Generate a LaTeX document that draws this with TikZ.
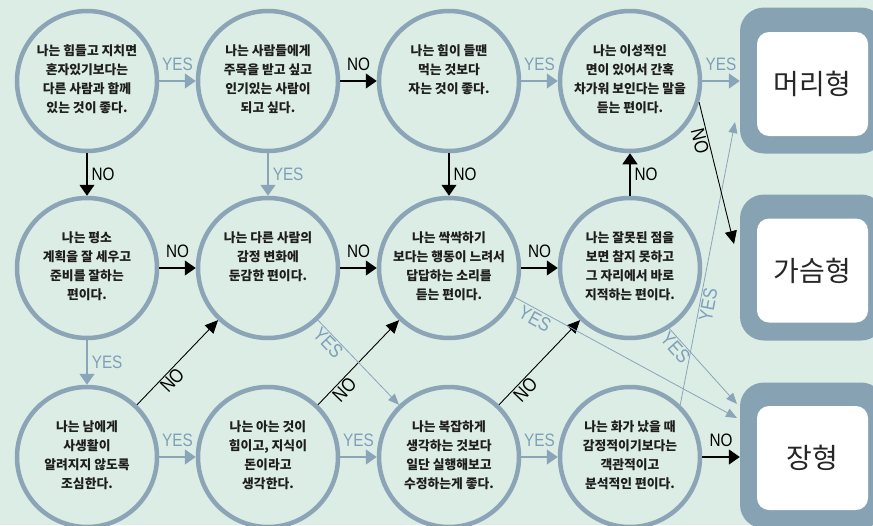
\documentclass[tikz,border=0pt]{standalone}
\usepackage{fontspec}
\setmainfont{Liberation Sans}
\newfontfamily\kr{Noto Sans CJK KR}
\newfontfamily\lblfont{Liberation Sans}[FakeStretch=0.85]
\usetikzlibrary{arrows.meta}
\definecolor{bg}{HTML}{DCEDE6}
\definecolor{cstroke}{HTML}{8BA4B6}
\definecolor{boxc}{HTML}{86A2B3}
\definecolor{yesc}{HTML}{7E9FB8}
\definecolor{lslate}{HTML}{8AA5B8}
\definecolor{qtext}{HTML}{1E1E1E}
\tikzset{
  q/.style={circle,draw=cstroke,line width=4.5pt,minimum size=140pt,inner sep=0pt},
  qt/.style={font=\kr\bfseries\fontsize{12.8}{19}\selectfont,align=center,text=qtext,anchor=north,inner sep=0pt},
  ob/.style={fill=boxc,rounded corners=24pt,minimum width=145pt,minimum height=146pt,inner sep=0pt},
  ib/.style={fill=white,rounded corners=12pt,minimum width=111pt,minimum height=104pt,inner sep=0pt,font=\kr\fontsize{28}{30}\selectfont,text=black!85},
  bk/.style={draw=black,line width=1.3pt,-{Triangle[length=11pt,width=15pt]}},
  sl/.style={draw=lslate,line width=1.6pt,-{Triangle[length=11pt,width=15pt]}},
  bkd/.style={draw=black,line width=0.9pt,-{Triangle[length=13pt,width=12pt]}},
  sld/.style={draw=lslate,line width=0.8pt,-{Triangle[length=11pt,width=9pt]}},
  yl/.style={text=yesc,font=\lblfont\fontsize{18}{18}\selectfont,inner sep=1pt},
  nl/.style={text=black,font=\lblfont\fontsize{18}{18}\selectfont,inner sep=1pt},
  yld/.style={text=yesc,font=\lblfont\fontsize{19.5}{19.5}\selectfont,inner sep=1pt,sloped},
  nld/.style={text=black,font=\lblfont\fontsize{19.5}{19.5}\selectfont,inner sep=1pt,sloped},
}
\newcommand\qnode[4]{%
  \node[q] (#1) at (#2,#3) {};
  \node[qt] (#1t) at (#2,#3-37) {#4};}
\begin{document}
\begin{tikzpicture}[x=1pt,y=-1pt]
\useasboundingbox (0,0) rectangle (873,525);
\clip (0,0) rectangle (873,525);
\fill[bg] (0,0) rectangle (873,525);

\qnode{c11}{87}{81}{나는 힘들고 지치면\\혼자있기보다는\\다른 사람과 함께\\있는 것이 좋다.}
\qnode{c12}{268}{81}{나는 사람들에게\\주목을 받고 싶고\\인기있는 사람이\\되고 싶다.}
\qnode{c13}{449}{81}{나는 힘이 들땐\\먹는 것보다\\자는 것이 좋다.}
\qnode{c14}{630}{81}{나는 이성적인\\면이 있어서 간혹\\차가워 보인다는 말을\\듣는 편이다.}
\qnode{c21}{87}{268}{나는 평소\\계획을 잘 세우고\\준비를 잘하는\\편이다.}
\qnode{c22}{268}{268}{나는 다른 사람의\\감정 변화에\\둔감한 편이다.}
\qnode{c23}{449}{268}{나는 싹싹하기\\보다는 행동이 느려서\\답답하는 소리를\\듣는 편이다.}
\qnode{c24}{630}{268}{나는 잘못된 점을\\보면 참지 못하고\\그 자리에서 바로\\지적하는 편이다.}
\qnode{c31}{87}{457}{나는 남에게\\사생활이\\알려지지 않도록\\조심한다.}
\qnode{c32}{268}{457}{나는 아는 것이\\힘이고, 지식이\\돈이라고\\생각한다.}
\qnode{c33}{449}{457}{나는 복잡하게\\생각하는 것보다\\일단 실행해보고\\수정하는게 좋다.}
\qnode{c34}{630}{457}{나는 화가 났을 때\\감정적이기보다는\\객관적이고\\분석적인 편이다.}

\node[ob] (b1) at (812.5,80.5) {};
\node[ib] (b1t) at (812.5,84) {머리형};
\node[ob] (b2) at (812.5,267.5) {};
\node[ib] (b2t) at (812.5,270.5) {가슴형};
\node[ob] (b3) at (812.5,455.5) {};
\node[ib] (b3t) at (812.5,458) {장형};

\coordinate (e1) at (735,122);
\coordinate (e2) at (734,244);
\coordinate (e3) at (737,404);
\coordinate (e4) at (737,418);

% row 1
\draw[sl] (c11) -- node[yl,above=9pt]{YES} (c12);
\draw[bk] (c12) -- node[nl,above=9pt]{NO} (c13);
\draw[sl] (c13) -- node[yl,above=9pt]{YES} (c14);
\draw[sl] (c14.east) -- node[yl,above=9pt]{YES} (c14.east -| b1.west);
% verticals
\draw[bk] (c11) -- node[nl,right=3pt]{NO} (c21);
\draw[sl] (c12) -- node[yl,right=3pt]{YES} (c22);
\draw[bk] (c13) -- node[nl,right=3pt]{NO} (c23);
\draw[bk] (c24) -- node[nl,right=3pt]{NO} (c14);
\draw[sl] (c21) -- node[yl,right=3pt]{YES} (c31);
% row 2
\draw[bk] (c21) -- node[nl,above=9pt]{NO} (c22);
\draw[bk] (c22) -- node[nl,above=9pt]{NO} (c23);
\draw[bk] (c23) -- node[nl,above=9pt]{NO} (c24);
% row 3
\draw[sl] (c31) -- node[yl,above=9pt]{YES} (c32);
\draw[sl] (c32) -- node[yl,above=9pt]{YES} (c33);
\draw[sl] (c33) -- node[yl,above=9pt]{YES} (c34);
\draw[bk] (c34.east) -- node[nl,above=9pt]{NO} (c34.east -| b3.west);
% diagonals
\draw[bkd] (c31) -- node[nld,below=0pt,pos=0.36]{NO} (c22);
\draw[bkd] (c32) -- node[nld,below=0pt,pos=0.25]{NO} (c23);
\draw[bkd] (c33) -- node[nld,below=0pt,pos=0.25]{NO} (c24);
\draw[sld] (c22) -- node[yld,below=0pt,pos=0.2]{YES} (c33);
\draw[sld] (c23.-24) -- node[yld,below=1pt,pos=0.11]{YES} (e4);
\draw[sld] (c24.-57) -- node[yld,below=0pt,pos=0.18]{YES} (e3);
\draw[sld] (c34.46) -- node[yld,below=0pt,pos=0.36]{YES} (e1);
\draw[bkd] (c14.-17) -- node[nld,below=0pt,pos=0.26]{NO} (e2);
\end{tikzpicture}
\end{document}
